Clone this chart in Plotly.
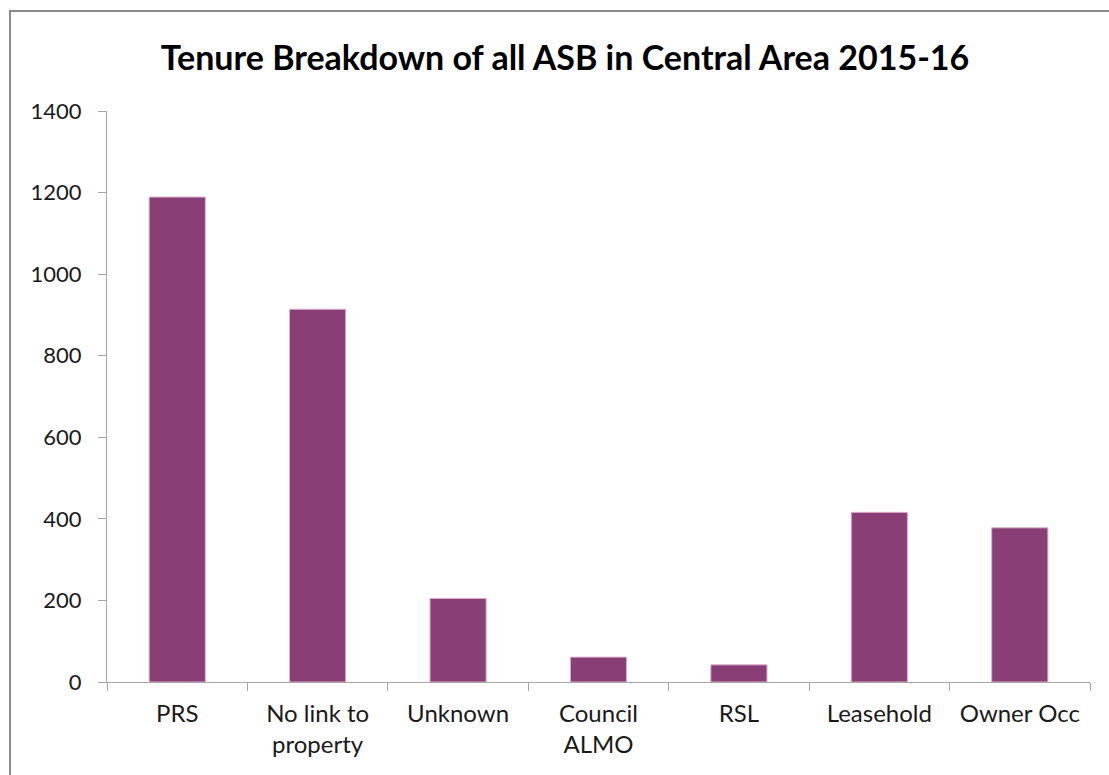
import plotly.graph_objects as go

# Tenure categories and ASB case counts
tenures = ["PRS", "No link to<br>property", "Unknown", "Council<br>ALMO", "RSL", "Leasehold", "Owner Occ"]
cases = [1189, 914, 205, 61, 42, 416, 378]

y_ticks = [0, 200, 400, 600, 800, 1000, 1200, 1400]

bar_color = "#893E75"
axis_color = "#A6A6A6"
font_family = "Lato, 'Open Sans', sans-serif"

fig = go.Figure(
    go.Bar(
        x=tenures,
        y=cases,
        marker=dict(color=bar_color, line=dict(color="#D8B2CC", width=1)),
        width=0.4,
    )
)

W, H = 1109, 775
L, R, T, B = 107, 19, 111, 93
pw, ph = W - L - R, H - T - B


def px_to_paper_x(px):
    return (px - L) / pw


def px_to_paper_y(py):
    return (H - B - py) / ph


fig.update_layout(
    width=W,
    height=H,
    margin=dict(l=L, r=R, t=T, b=B),
    paper_bgcolor="white",
    plot_bgcolor="white",
    showlegend=False,
    font=dict(family=font_family, color="#1a1a1a"),
    title=dict(
        text="<b>Tenure Breakdown of all ASB in Central Area 2015-16</b>",
        x=565 / W,
        xanchor="center",
        y=1 - 58 / H,
        yanchor="middle",
        font=dict(size=34, color="#000000", family=font_family),
    ),
    xaxis=dict(
        showline=True,
        linecolor=axis_color,
        linewidth=1,
        ticks="outside",
        tickson="boundaries",
        ticklen=8,
        tickcolor=axis_color,
        showgrid=False,
        tickfont=dict(size=24, color="#1a1a1a"),
        ticklabelstandoff=10,
    ),
    yaxis=dict(
        range=[0, 1400],
        tickvals=y_ticks,
        showline=True,
        linecolor=axis_color,
        linewidth=1,
        ticks="outside",
        ticklen=8,
        tickcolor=axis_color,
        showgrid=False,
        zeroline=False,
        tickfont=dict(size=22, color="#1a1a1a"),
        ticklabelstandoff=12,
    ),
    shapes=[
        dict(
            type="rect",
            xref="paper",
            yref="paper",
            x0=px_to_paper_x(10),
            x1=px_to_paper_x(1200),
            y0=px_to_paper_y(900),
            y1=px_to_paper_y(11),
            line=dict(color="#8C8C8C", width=2),
            fillcolor="rgba(0,0,0,0)",
            layer="below",
        )
    ],
)

fig.write_html("out.html")
